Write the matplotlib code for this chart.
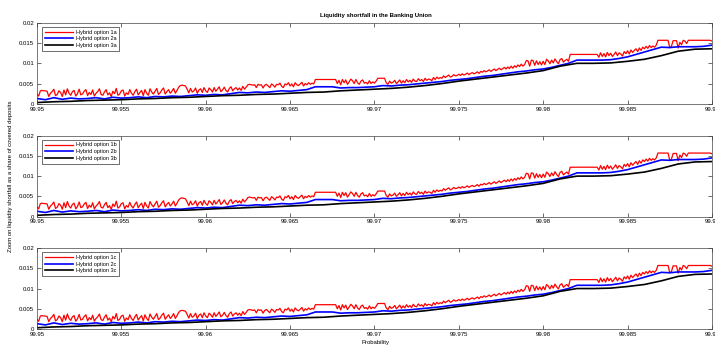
import numpy as np
import matplotlib
matplotlib.use('Agg')
import matplotlib.pyplot as plt

plt.rcParams['font.family'] = ['Liberation Sans', 'DejaVu Sans']

# probability grids
prob_red = np.linspace(99.95, 99.99, 401)
prob_blue = np.linspace(99.95, 99.99, 81)
prob_black = np.linspace(99.95, 99.99, 41)

# liquidity shortfall, in thousandths of covered deposits
red_vals = [
    2.4, 1.9, 3.2, 3.3, 3.2, 3.2, 3.1, 1.8, 2.6, 3.0, 3.6, 2.0, 2.3, 3.2, 2.8, 1.8, 3.4, 2.2, 3.7, 2.6,
    2.1, 3.0, 3.3, 1.9, 2.5, 3.6, 2.2, 2.4, 3.1, 3.5, 2.0, 2.8, 2.3, 3.4, 1.9, 2.6, 3.0, 3.7, 2.3, 2.1,
    2.9, 3.5, 2.2, 2.7, 1.8, 3.1, 2.5, 3.8, 2.1, 2.4, 3.2, 3.4, 1.9, 2.7, 2.3, 3.5, 2.6, 2.1, 3.0, 3.6,
    2.2, 2.8, 3.3, 2.0, 3.5, 2.6, 2.1, 3.7, 2.9, 2.4, 3.1, 3.8, 2.3, 2.7, 3.4, 3.9, 2.4, 3.0, 3.5, 2.6,
    3.1, 3.8, 2.6, 3.3, 4.1, 4.5, 4.6, 4.5, 4.4, 3.6, 2.7, 3.8, 2.9, 3.2, 3.9, 2.6, 3.4, 3.7, 2.8, 4.0,
    3.2, 2.8, 3.9, 3.5, 2.9, 4.0, 3.1, 3.6, 4.2, 3.0, 3.4, 4.1, 3.3, 2.9, 3.8, 4.2, 3.2, 3.7, 4.0, 3.4,
    3.9, 3.3, 4.3, 3.6, 4.1, 4.7, 4.8, 4.7, 4.6, 4.7, 4.0, 4.8, 4.6, 4.7, 3.9, 4.6, 4.8, 4.4, 4.0, 4.9,
    4.6, 4.1, 4.8, 4.7, 5.1, 4.3, 4.0, 4.9, 4.7, 5.2, 4.4, 4.9, 4.2, 5.2, 4.7, 4.5, 4.9, 5.3, 4.4, 5.0,
    4.7, 5.2, 4.8, 5.1, 4.9, 6.0, 6.0, 6.0, 6.0, 6.0, 6.0, 6.0, 6.0, 6.0, 6.0, 6.0, 6.0, 6.0, 5.0, 5.8,
    4.7, 6.0, 5.2, 5.9, 4.8, 5.4, 6.1, 5.7, 5.0, 6.0, 5.2, 4.8, 5.6, 5.9, 5.1, 5.3, 4.9, 5.7, 5.0, 5.4,
    5.1, 5.6, 6.3, 6.3, 6.3, 6.3, 6.3, 5.2, 4.8, 5.6, 5.1, 5.3, 5.8, 5.0, 5.4, 5.9, 5.1, 5.7, 5.2, 6.0,
    5.4, 5.8, 5.3, 6.1, 5.6, 5.5, 6.2, 5.7, 6.0, 5.5, 6.3, 5.8, 6.1, 6.0, 5.7, 6.5, 6.0, 6.6, 6.2, 6.5,
    6.3, 6.9, 6.5, 6.8, 7.1, 6.6, 6.8, 7.2, 6.9, 7.0, 7.3, 7.0, 7.4, 7.1, 7.3, 7.6, 7.2, 7.5, 7.7, 7.4,
    7.6, 7.9, 7.5, 8.0, 7.8, 8.2, 7.9, 8.1, 8.4, 8.0, 8.3, 8.6, 8.2, 8.5, 8.8, 8.4, 8.7, 9.0, 8.6, 9.1,
    8.7, 9.3, 8.8, 9.4, 9.0, 9.6, 9.2, 9.8, 9.3, 9.7, 10.7, 10.6, 9.3, 10.8, 10.7, 9.5, 10.6, 9.7, 10.4, 9.6,
    10.5, 9.7, 11.0, 10.6, 9.9, 10.8, 10.1, 11.1, 10.4, 9.9, 10.9, 11.2, 10.3, 10.7, 11.0, 10.5, 12.2, 12.2, 12.2, 12.2,
    12.2, 12.2, 12.2, 12.2, 12.2, 12.2, 12.2, 12.2, 12.2, 12.2, 12.2, 12.2, 12.2, 11.5, 12.6, 11.7, 12.4, 11.6, 12.7, 11.9,
    12.5, 11.7, 12.2, 12.8, 11.9, 12.6, 12.3, 11.8, 12.9, 12.4, 13.1, 12.3, 13.3, 12.7, 13.2, 13.6, 12.9, 13.8, 13.2, 14.0,
    13.6, 14.2, 13.7, 14.4, 13.9, 14.3, 14.0, 14.5, 15.7, 15.7, 15.7, 15.7, 15.7, 15.7, 15.7, 13.9, 14.2, 15.6, 15.6, 15.6,
    13.8, 15.2, 14.6, 15.7, 15.5, 14.9, 15.7, 15.7, 15.7, 15.7, 15.7, 15.7, 15.7, 15.7, 15.7, 15.7, 15.7, 15.7, 15.7, 15.7,
    15.5,
]
blue_vals = [
    1.3, 1.0, 1.5, 1.1, 1.4, 1.2, 1.3, 1.5, 1.2, 1.6, 1.4,
    1.5, 1.7, 1.5, 1.8, 1.7, 1.9, 1.8, 2.0, 2.2, 2.1,
    2.3, 2.2, 2.5, 2.8, 2.7, 2.9, 2.8, 3.0, 3.2, 3.1,
    3.3, 3.5, 4.2, 4.2, 4.2, 3.9, 4.0, 4.0, 4.1, 4.2,
    4.5, 4.4, 4.6, 4.7, 4.9, 5.1, 5.3, 5.5, 5.8, 6.0,
    6.2, 6.5, 6.8, 7.0, 7.3, 7.6, 7.9, 8.1, 8.4, 8.6,
    9.0, 9.5, 10.0, 10.8, 10.8, 10.8, 10.8, 10.9, 11.2, 11.6,
    12.2, 12.8, 13.4, 14.0, 13.9, 14.1, 14.1, 14.1, 14.2, 14.5,
]
black_vals = [
    0.3, 0.5, 0.6, 0.8, 0.9, 1.0, 1.2, 1.3, 1.5, 1.6, 1.8,
    2.0, 2.1, 2.3, 2.4, 2.6, 2.8, 2.9, 3.2, 3.4, 3.6,
    3.8, 4.1, 4.5, 5.0, 5.6, 6.1, 6.6, 7.1, 7.6, 8.2,
    9.3, 10.0, 10.0, 10.1, 10.5, 11.0, 11.9, 13.0, 13.5, 13.6,
]
red = np.array(red_vals) / 1000
blue = np.array(blue_vals) / 1000
black = np.array(black_vals) / 1000

panels = ['a', 'b', 'c']
xticks = [99.95, 99.955, 99.96, 99.965, 99.97, 99.975, 99.98, 99.985, 99.99]
xticklabels = ['99.95', '99.955', '99.96', '99.965', '99.97', '99.975', '99.98', '99.985', '99.99']
yticks = [0, 0.005, 0.01, 0.015, 0.02]
yticklabels = ['0', '0.005', '0.01', '0.015', '0.02']

fig = plt.figure(figsize=(7.15, 3.47), dpi=100)
bottoms = [0.701, 0.376, 0.052]

for suffix, bottom in zip(panels, bottoms):
    ax = fig.add_axes([0.0517, bottom, 0.944, 0.233])
    ax.plot(prob_red, red, color='red', lw=0.9, label='Hybrid option 1' + suffix)
    ax.plot(prob_blue, blue, color='blue', lw=1.2, label='Hybrid option 2' + suffix)
    ax.plot(prob_black, black, color='black', lw=1.2, label='Hybrid option 3' + suffix)
    ax.set_xlim(99.95, 99.99)
    ax.set_ylim(0, 0.02)
    ax.set_xticks(xticks)
    ax.set_xticklabels(xticklabels)
    ax.set_yticks(yticks)
    ax.set_yticklabels(yticklabels)
    ax.tick_params(direction='in', length=3, width=0.5, labelsize=4.3, pad=2,
                   top=True, right=True, colors='#333333', labelcolor='black')
    for s in ax.spines.values():
        s.set_linewidth(0.5)
        s.set_color('#444444')
    leg = ax.legend(loc='upper left', bbox_to_anchor=(0.008, 0.95), fontsize=4,
                    frameon=True, fancybox=False, handlelength=5, handletextpad=0.5,
                    borderpad=0.5, labelspacing=0.3, borderaxespad=0)
    leg.get_frame().set_edgecolor('black')
    leg.get_frame().set_linewidth(0.5)

fig.text(0.525, 1 - 16 / 347, 'Liquidity shortfall in the Banking Union',
         ha='center', va='center', fontsize=4.3, fontweight='bold')
fig.text(0.014, 0.493, 'Zoom on liquidity shortfall as a share of covered deposits',
         rotation=90, ha='center', va='center', fontsize=4.3)
fig.text(0.525, 7 / 347, 'Probability', ha='center', va='top', fontsize=4.3)

fig.savefig('out.png', dpi=100)
